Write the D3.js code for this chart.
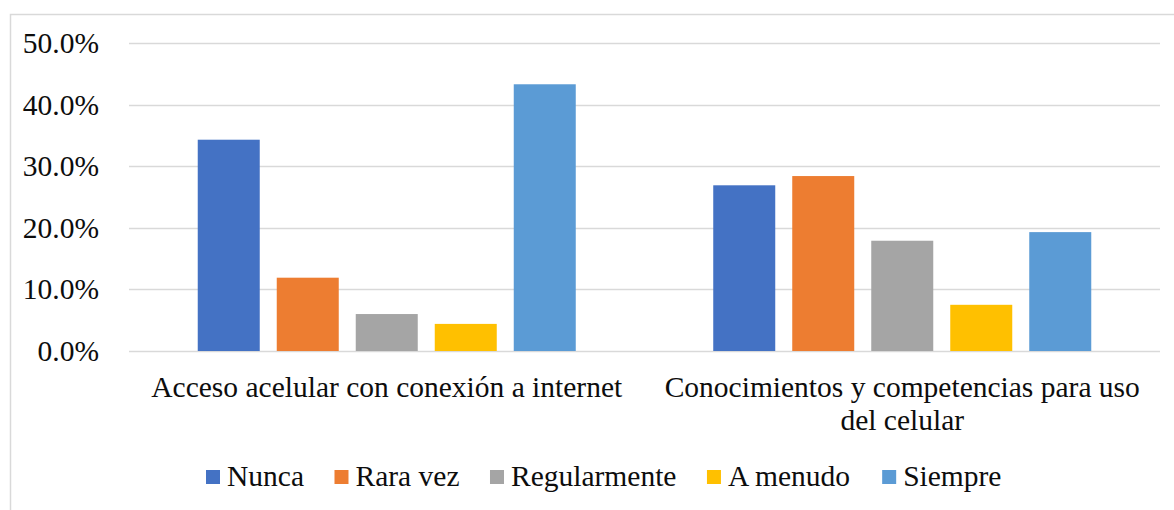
<!DOCTYPE html>
<html>
<head>
<meta charset="utf-8">
<script src="https://cdn.jsdelivr.net/npm/d3@7"></script>
</head>
<body style="margin:0">
<svg id="chart" width="1174" height="510"></svg>
<script>
const categories = [
  ["Acceso acelular con conexión a internet"],
  ["Conocimientos y competencias para uso", "del celular"]
];
const seriesNames = ["Nunca", "Rara vez", "Regularmente", "A menudo", "Siempre"];
const seriesColors = ["#4472C4", "#ED7D31", "#A5A5A5", "#FFC000", "#5B9BD5"];
const nunca        = [0.343, 0.269];
const raraVez      = [0.119, 0.284];
const regularmente = [0.060, 0.179];
const aMenudo      = [0.044, 0.075];
const siempre      = [0.433, 0.193];
const yTicks = [0, 0.1, 0.2, 0.3, 0.4, 0.5];

const seriesValues = [nunca, raraVez, regularmente, aMenudo, siempre];
const FONT = '"Liberation Serif", "Times New Roman", monospace';
const FS = 29.5;
const TXT = "#0d0d0d";

const svg = d3.select("#chart");
const W = 1174, H = 510;

// chart area border (top and left visible)
svg.append("path")
  .attr("d", `M10.5,${H} L10.5,14.5 L${W},14.5`)
  .attr("fill", "none").attr("stroke", "#d9d9d9").attr("stroke-width", 1.5);

const plot = { left: 129, right: 1160, top: 43, bottom: 351 };

const y = d3.scaleLinear().domain([0, 0.5]).range([plot.bottom, plot.top]);
const x0 = d3.scaleBand().domain(d3.range(categories.length)).range([plot.left, plot.right]).padding(0);
const groupGap = 0.2667;
const x1 = d3.scaleBand().domain(seriesNames)
  .range([x0.bandwidth() * groupGap / 2, x0.bandwidth() * (1 - groupGap / 2)])
  .paddingInner(17 / 79).paddingOuter(0);

// gridlines
svg.append("g").selectAll("line").data(yTicks).join("line")
  .attr("x1", plot.left).attr("x2", plot.right)
  .attr("y1", d => Math.round(y(d)) + 0.5).attr("y2", d => Math.round(y(d)) + 0.5)
  .attr("stroke", "#d9d9d9").attr("stroke-width", 1.5);

// y axis labels
const fmt = d3.format(".1%");
svg.append("g").selectAll("text").data(yTicks).join("text")
  .attr("x", 99).attr("y", d => y(d)).attr("dy", "0.34em")
  .attr("text-anchor", "end")
  .attr("font-size", FS)
  .style("font-family", FONT)
  .attr("fill", TXT)
  .text(d => fmt(d));

// bars
const groups = svg.append("g").selectAll("g").data(categories).join("g")
  .attr("transform", (d, i) => `translate(${x0(i)},0)`);
groups.selectAll("rect")
  .data((d, i) => seriesNames.map((s, k) => ({ s, k, v: seriesValues[k][i] })))
  .join("rect")
  .attr("x", d => x1(d.s))
  .attr("width", x1.bandwidth())
  .attr("y", d => y(d.v))
  .attr("height", d => y(0) - y(d.v))
  .attr("fill", d => seriesColors[d.k]);

// category labels
groups.each(function(lines, i) {
  const g = d3.select(this);
  lines.forEach((ln, j) => {
    g.append("text")
      .attr("x", x0.bandwidth() / 2).attr("y", 397 + j * 33)
      .attr("text-anchor", "middle")
      .attr("font-size", FS)
      .style("font-family", FONT)
      .attr("fill", TXT)
      .text(ln);
  });
});

// legend (widths measured with a canvas)
const ctx = document.createElement("canvas").getContext("2d");
ctx.font = `${FS}px "Liberation Serif"`;
const legend = svg.append("g");
let lx = 206;
seriesNames.forEach((s, k) => {
  legend.append("rect").attr("x", lx).attr("y", 470).attr("width", 14).attr("height", 14)
    .attr("fill", seriesColors[k]);
  legend.append("text").attr("x", lx + 21).attr("y", 486)
    .attr("font-size", FS)
    .style("font-family", FONT)
    .attr("fill", TXT)
    .text(s);
  const w = ctx.measureText(s).width;
  lx += 21 + w + 30.5;
});
</script>
</body>
</html>
